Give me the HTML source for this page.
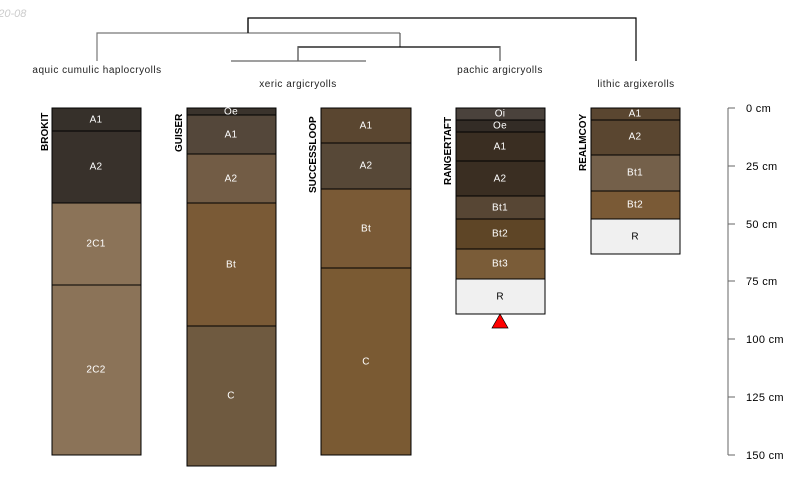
<!DOCTYPE html>
<html><head><meta charset="utf-8"><style>
html,body{margin:0;padding:0;background:#fff;}
svg{display:block;font-family:"Liberation Sans",sans-serif;}
.h{stroke:#000;stroke-width:1;}
.lt{fill:#fff;font-size:10px;text-anchor:middle;dominant-baseline:central;letter-spacing:0.3px;}
.dk{fill:#000;font-size:10px;text-anchor:middle;dominant-baseline:central;}
.nm{font-size:10px;font-weight:bold;fill:#000;}
</style></head><body>
<svg width="800" height="500" viewBox="0 0 800 500">
<text x="-14" y="17" font-size="11" fill="#ccc" font-style="italic">2020-08</text>
<!-- dendrogram -->
<g fill="none" stroke-width="1.2">
<polyline points="248,33 248,18 636,18 636,61" stroke="#000"/>
<polyline points="97,61 97,33 400,33" stroke="#777"/>
<polyline points="400,33 400,47" stroke="#555"/>
<polyline points="298,61 298,47 500,47 500,61" stroke="#000"/>
<line x1="298" y1="47" x2="298" y2="61" stroke="#666"/>
<line x1="500" y1="47" x2="500" y2="61" stroke="#777"/>
<line x1="231" y1="61" x2="366" y2="61" stroke="#666"/>
<line x1="248" y1="18" x2="248" y2="33" stroke="#000"/>
</g>
<g font-size="10" fill="#222" text-anchor="middle" letter-spacing="0.5">
<text x="97" y="73">aquic cumulic haplocryolls</text>
<text x="298" y="87">xeric argicryolls</text>
<text x="500" y="73">pachic argicryolls</text>
<text x="636" y="87">lithic argixerolls</text>
</g>
<!-- BROKIT -->
<g class="h">
<rect x="52" y="108" width="89" height="23" fill="#36302a"/>
<rect x="52" y="131" width="89" height="72" fill="#38312b"/>
<rect x="52" y="203" width="89" height="82" fill="#8b7358"/>
<rect x="52" y="285" width="89" height="170" fill="#8b7358"/>
</g>
<text class="lt" x="96" y="120">A1</text><text class="lt" x="96" y="167">A2</text>
<text class="lt" x="96" y="244">2C1</text><text class="lt" x="96" y="370">2C2</text>
<text class="nm" transform="translate(48,151) rotate(-90)">BROKIT</text>
<!-- GUISER -->
<g class="h">
<rect x="187" y="108" width="89" height="7" fill="#3a332c"/>
<rect x="187" y="115" width="89" height="39" fill="#54473a"/>
<rect x="187" y="154" width="89" height="49" fill="#725c45"/>
<rect x="187" y="203" width="89" height="123" fill="#7a5a36"/>
<rect x="187" y="326" width="89" height="140" fill="#6f5a40"/>
</g>
<text class="lt" x="231" y="112" font-size="9">Oe</text><text class="lt" x="231" y="135">A1</text>
<text class="lt" x="231" y="179">A2</text><text class="lt" x="231" y="265">Bt</text><text class="lt" x="231" y="396">C</text>
<text class="nm" transform="translate(182,152) rotate(-90)">GUISER</text>
<!-- SUCCESSLOOP -->
<g class="h">
<rect x="321" y="108" width="90" height="35" fill="#5a4630"/>
<rect x="321" y="143" width="90" height="46" fill="#574837"/>
<rect x="321" y="189" width="90" height="79" fill="#7a5a36"/>
<rect x="321" y="268" width="90" height="187" fill="#7a5a33"/>
</g>
<text class="lt" x="366" y="126">A1</text><text class="lt" x="366" y="166">A2</text>
<text class="lt" x="366" y="229">Bt</text><text class="lt" x="366" y="362">C</text>
<text class="nm" transform="translate(316,193) rotate(-90)">SUCCESSLOOP</text>
<!-- RANGERTAFT -->
<g class="h">
<rect x="456" y="108" width="89" height="12" fill="#4a423c"/>
<rect x="456" y="120" width="89" height="12" fill="#332c26"/>
<rect x="456" y="132" width="89" height="29" fill="#3a2e22"/>
<rect x="456" y="161" width="89" height="35" fill="#3a2e22"/>
<rect x="456" y="196" width="89" height="23" fill="#574634"/>
<rect x="456" y="219" width="89" height="30" fill="#5e4526"/>
<rect x="456" y="249" width="89" height="30" fill="#7a5c38"/>
<rect x="456" y="279" width="89" height="35" fill="#f0f0f0"/>
</g>
<text class="lt" x="500" y="114">Oi</text><text class="lt" x="500" y="126">Oe</text>
<text class="lt" x="500" y="147">A1</text><text class="lt" x="500" y="179">A2</text>
<text class="lt" x="500" y="208">Bt1</text><text class="lt" x="500" y="234">Bt2</text>
<text class="lt" x="500" y="264">Bt3</text><text class="dk" x="500" y="297">R</text>
<polygon points="500,314 492,328 508,328" fill="#f00" stroke="#000" stroke-width="0.7"/>
<text class="nm" transform="translate(451,185) rotate(-90)">RANGERTAFT</text>
<!-- REALMCOY -->
<g class="h">
<rect x="591" y="108" width="89" height="12" fill="#5a4630"/>
<rect x="591" y="120" width="89" height="35" fill="#5a4630"/>
<rect x="591" y="155" width="89" height="36" fill="#74604a"/>
<rect x="591" y="191" width="89" height="28" fill="#7a5a36"/>
<rect x="591" y="219" width="89" height="35" fill="#f0f0f0"/>
</g>
<text class="lt" x="635" y="114">A1</text><text class="lt" x="635" y="137">A2</text>
<text class="lt" x="635" y="173">Bt1</text><text class="lt" x="635" y="205">Bt2</text>
<text class="dk" x="635" y="237">R</text>
<text class="nm" transform="translate(586,171) rotate(-90)">REALMCOY</text>
<!-- depth axis -->
<g stroke="#666" stroke-width="1">
<line x1="728" y1="108" x2="728" y2="455"/>
<line x1="728" y1="108" x2="735" y2="108"/><line x1="728" y1="166" x2="735" y2="166"/>
<line x1="728" y1="224" x2="735" y2="224"/><line x1="728" y1="281" x2="735" y2="281"/>
<line x1="728" y1="339" x2="735" y2="339"/><line x1="728" y1="397" x2="735" y2="397"/>
<line x1="728" y1="455" x2="735" y2="455"/>
</g>
<g font-size="11" fill="#000" dominant-baseline="central" letter-spacing="0.3">
<text x="746" y="109">0 cm</text><text x="746" y="167">25 cm</text><text x="746" y="225">50 cm</text>
<text x="746" y="282">75 cm</text><text x="746" y="340">100 cm</text><text x="746" y="398">125 cm</text>
<text x="746" y="456">150 cm</text>
</g>
</svg>
</body></html>
